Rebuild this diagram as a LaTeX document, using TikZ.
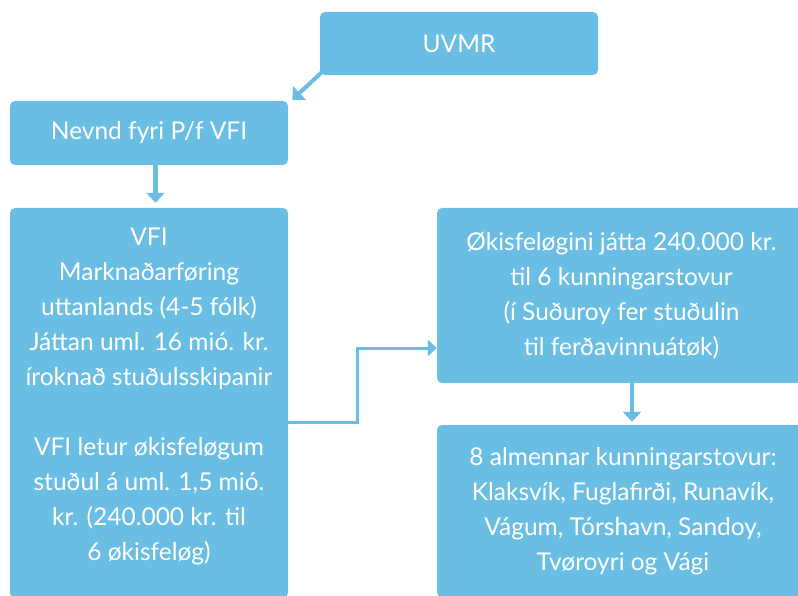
\documentclass[tikz,border=0pt]{standalone}
\usepackage{fontspec}
\setmainfont{Lato}
\usetikzlibrary{arrows.meta}
\definecolor{boxblue}{RGB}{107,190,227}
\tikzset{
  box/.style={fill=boxblue, rounded corners=5pt, text=white, align=center,
    inner sep=0pt, font=\fontsize{24.5}{35}\selectfont},
  boxtext/.style={text=white, align=center, inner sep=0pt,
    font=\fontsize{24.5}{35}\selectfont},
  arr/.style={draw=boxblue, line width=4.5pt, -{Triangle[width=18pt,length=10pt]}},
  elbow/.style={draw=boxblue, line width=3pt, -{Triangle[width=16pt,length=9pt]}}
}

\begin{document}
\begin{tikzpicture}[x=1pt, y=-1pt]
    \useasboundingbox (0,0) rectangle (798,596);
    \clip (0,0) rectangle (798,596);
    % top row
    \node[box, minimum width=278pt, minimum height=63pt] (uvmr) at (459,43.5) {UVMR};
    \node[box, minimum width=278pt, minimum height=64pt] (nevnd) at (149,133) {Nevnd fyri P/f VFI};
    % left column
    \node[box, minimum width=278pt, minimum height=390pt] (vfi) at (149,403) {};
    \node[boxtext] (vfitext) at (149,396) {VFI\\Marknaðarføring\\uttanlands (4-5 fólk)\\Játtan uml. 16 mió. kr.\\íroknað stuðulsskipanir\\[35pt]VFI letur økisfeløgum\\stuðul á uml. 1,5 mió.\\kr. (240.000 kr. til\\6 økisfeløg)};
    % right column
    \node[box, minimum width=369pt, minimum height=175pt] (okis) at (621.5,295.5) {Økisfeløgini játta 240.000 kr.\\til 6 kunningarstovur\\(í Suðuroy fer stuðulin\\til ferðavinnuátøk)};
    \node[box, minimum width=372pt, minimum height=172pt] (almen) at (623,511) {8 almennar kunningarstovur:\\Klaksvík, Fuglafirði, Runavík,\\Vágum, Tórshavn, Sandoy,\\Tvøroyri og Vági};
    % connectors
    \draw[arr, line width=4pt] ([xshift=2pt, yshift=3pt]uvmr.south west) -- ([xshift=4pt, yshift=1pt]nevnd.north east);
    \draw[arr, shorten >=5pt] ([xshift=6.5pt]nevnd.south) -- ([xshift=6.5pt]vfi.north);
    \draw[elbow] ([yshift=-19pt]vfi.east) -- ++(69,0) |- ([yshift=-52.5pt]okis.west);
    \draw[arr, shorten >=3pt] ([xshift=10.5pt]okis.south) -- ([xshift=9pt]almen.north);
\end{tikzpicture}
\end{document}
